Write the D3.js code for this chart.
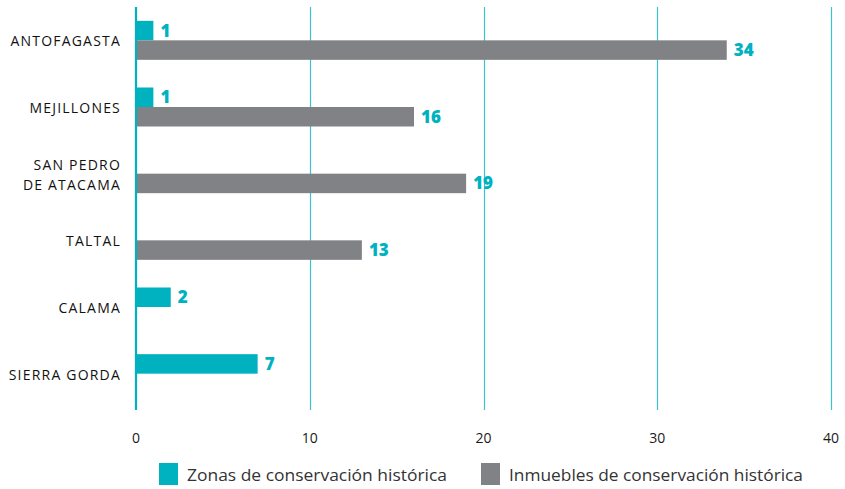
<!DOCTYPE html>
<html><head><meta charset="utf-8">
<script src="https://cdn.jsdelivr.net/npm/d3@7"></script>
<style>
body{margin:0;background:#fff;}
svg{display:block;}
</style></head>
<body>
<svg id="chart" width="845" height="489"></svg>
<script>
const categories = [["ANTOFAGASTA"],["MEJILLONES"],["SAN PEDRO","DE ATACAMA"],["TALTAL"],["CALAMA"],["SIERRA GORDA"]];
const zonas = [1, 1, null, null, 2, 7];
const inmuebles = [34, 16, 19, 13, null, null];
const xTicks = [0, 10, 20, 30, 40];
const seriesNames = ["Zonas de conservación histórica", "Inmuebles de conservación histórica"];
const colors = ["#00b2bf", "#808285"];

const svg = d3.select("#chart");
const x = d3.scaleLinear().domain([0, 40]).range([136, 831]);
const keys = categories.map((c,i)=>i);
const y = d3.scaleBand().domain(keys).range([7, 407]);
const half = 19.5;

// gridlines
svg.append("g").selectAll("line").data(xTicks.slice(1)).join("line")
  .attr("x1", d=>Math.round(x(d))+0.5).attr("x2", d=>Math.round(x(d))+0.5)
  .attr("y1", 7).attr("y2", 410)
  .attr("stroke", "#3cc3cd").attr("stroke-width", 1.2);

const series = [zonas, inmuebles];
series.forEach((vals, s) => {
  const g = svg.append("g");
  const data = vals.map((v,i)=>({v,i})).filter(d=>d.v!==null);
  g.selectAll("rect").data(data).join("rect")
    .attr("x", x(0))
    .attr("y", d => y(d.i) + y.bandwidth()/2 - (s===0 ? half : 0))
    .attr("width", d => x(d.v) - x(0))
    .attr("height", half)
    .attr("fill", colors[s]);
  g.selectAll("text").data(data).join("text")
    .attr("x", d => x(d.v) + 7)
    .attr("y", d => y(d.i) + y.bandwidth()/2 - (s===0 ? half : 0) + half/2 + 6)
    .attr("fill", "#00b2bf")
    .attr("font-family", "'Open Sans', sans-serif")
    .attr("font-weight", 800)
    .attr("font-size", 17)
    .text(d => d.v);
});

// axis line
svg.append("line").attr("x1", x(0)).attr("x2", x(0)).attr("y1", 7).attr("y2", 410)
  .attr("stroke", "#00b2bf").attr("stroke-width", 2.2);

// category labels
const cl = svg.append("g");
categories.forEach((lines, i) => {
  const cy = y(i) + y.bandwidth()/2;
  const t = cl.append("text")
    .attr("text-anchor", "end")
    .attr("font-family", "'Open Sans', sans-serif")
    .attr("font-size", 14)
    .attr("font-weight", 500)
    .attr("letter-spacing", 1.2)
    .attr("fill", "#111");
  lines.forEach((ln, k) => {
    t.append("tspan").attr("x", 121)
      .attr("y", cy + 6 + (k - (lines.length-1)/2) * 20)
      .text(ln);
  });
});

// x tick labels
svg.append("g").selectAll("text").data(xTicks).join("text")
  .attr("x", d => x(d)).attr("y", 443)
  .attr("text-anchor", "middle")
  .attr("font-family", "'Open Sans', sans-serif")
  .attr("font-size", 14)
  .attr("fill", "#1a1a1a")
  .text(d => d);

// legend
const lg = svg.append("g");
const lx = [159, 481];
seriesNames.forEach((n, i) => {
  lg.append("rect").attr("x", lx[i]).attr("y", 463).attr("width", 19).attr("height", 22).attr("fill", colors[i]);
  lg.append("text").attr("x", lx[i] + 28).attr("y", 481)
    .attr("font-family", "'Open Sans', sans-serif")
    .attr("font-size", 17).attr("fill", "#333")
    .attr("textLength", i===0 ? 260 : 294).attr("lengthAdjust", "spacingAndGlyphs")
    .text(n);
});
</script>
</body></html>
